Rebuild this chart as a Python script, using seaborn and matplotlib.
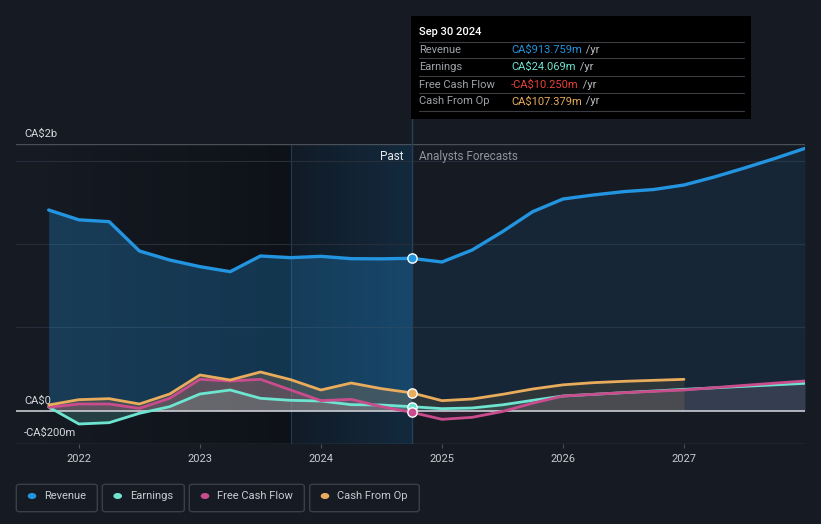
import matplotlib
matplotlib.use("Agg")
import matplotlib.pyplot as plt
from matplotlib.colors import LinearSegmentedColormap
from matplotlib.patches import FancyBboxPatch, Circle
from matplotlib.lines import Line2D
import seaborn as sns
import pandas as pd
import numpy as np

W, H = 821, 524

# --- data (CA$ millions) ---
past_years = [2021.75, 2022.0, 2022.25, 2022.5, 2022.75, 2023.0, 2023.25,
              2023.5, 2023.75, 2024.0, 2024.25, 2024.5, 2024.75]
fc_years = [2024.75, 2025.0, 2025.25, 2025.5, 2025.75, 2026.0, 2026.25,
            2026.5, 2026.75, 2027.0, 2027.25, 2027.5, 2027.75, 2028.0]

revenue_past = [1204, 1145, 1134, 958, 904, 864, 834, 928, 918, 926, 912, 911, 914]
revenue_fc = [914, 892, 964, 1074, 1194, 1270, 1294, 1314, 1327, 1354, 1402, 1456, 1513, 1574]

earnings_past = [22, -80, -72, -16, 24, 100, 124, 74, 62, 58, 36, 34, 24]
earnings_fc = [24, 12, 16, 35, 62, 88, 98, 108, 118, 128, 137, 146, 155, 164]

fcf_past = [20, 40, 40, 14, 74, 188, 178, 188, 124, 60, 68, 24, -10]
fcf_fc = [-10, -52, -40, -5, 45, 88, 98, 108, 116, 124, 138, 152, 165, 178]

cfo_past = [34, 66, 72, 40, 100, 214, 184, 232, 186, 124, 166, 132, 107]
cfo_fc = [107, 60, 70, 98, 130, 155, 168, 176, 182, 188]

series_names = ["Revenue", "Earnings", "Free Cash Flow", "Cash From Op"]
colors = {"Revenue": "#2394df", "Earnings": "#6ee5d1",
          "Free Cash Flow": "#c94c8c", "Cash From Op": "#e9ac5c"}

tooltip_date = "Sep 30 2024"
tooltip_values = ["CA$913.759m", "CA$24.069m", "-CA$10.250m", "CA$107.379m"]
tooltip_colors = ["#2394df", "#6ee5d1", "#e8413c", "#e9ac5c"]

year_ticks = [2022, 2023, 2024, 2025, 2026, 2027]

# --- build long table ---
rows = []
for name, p, f in [("Revenue", revenue_past, revenue_fc),
                   ("Earnings", earnings_past, earnings_fc),
                   ("Free Cash Flow", fcf_past, fcf_fc),
                   ("Cash From Op", cfo_past, cfo_fc)]:
    for x, v in zip(past_years, p):
        rows.append((name, x, v, "past"))
    for x, v in zip(fc_years[1:len(f)], f[1:]):
        rows.append((name, x, v, "forecast"))
df = pd.DataFrame(rows, columns=["series", "year", "value", "part"])

sns.set_theme(style="dark")
plt.rcParams['font.family'] = ['Roboto', 'DejaVu Sans']

BG = "#151a23"
fig = plt.figure(figsize=(W / 100, H / 100), dpi=100, facecolor=BG)
ax = fig.add_axes([16 / W, 1 - 444 / H, (805 - 16) / W, (444 - 144) / H])
ax.set_facecolor(BG)

XMIN, XMAX, YMIN, YMAX = 2021.48, 2028.0, -200, 1600

# background shading: darker past, highlighted last year
grad = np.linspace(0, 1, 256).reshape(1, -1)
dark_cmap = LinearSegmentedColormap.from_list("d", [BG, "#0e1218"])
ax.imshow(grad, extent=[2021.75, 2023.75, YMIN, YMAX], aspect="auto",
          cmap=dark_cmap, zorder=0)
hl_cmap = LinearSegmentedColormap.from_list("h", ["#111b26", "#132a3e"])
ax.imshow(grad, extent=[2023.75, 2024.75, YMIN, YMAX], aspect="auto",
          cmap=hl_cmap, zorder=0)
ax.axvline(2023.75, color="#1f3a55", lw=0.8, zorder=1)
ax.axvline(2024.75, color="#26405a", lw=1.0, zorder=3)

# gridlines
for g in [500, 1000, 1500]:
    ax.axhline(g, color="#272e3a", lw=0.8, zorder=1)
ax.axhline(YMAX, color="#4a4f58", lw=1.0, zorder=1)
ax.axhline(YMIN, color="#4a4f58", lw=1.0, zorder=1)

# fills
for name in series_names:
    d = df[df.series == name].sort_values("year")
    past = d[d.year <= 2024.75]
    fc = d[d.year >= 2024.75]
    if name == "Revenue":
        a_p, a_f = 0.28, 0.10
    else:
        a_p, a_f = 0.20, 0.12
    ax.fill_between(past.year, past.value, 0, color=colors[name], alpha=a_p,
                    lw=0, zorder=2)
    ax.fill_between(fc.year, fc.value, 0, color=colors[name], alpha=a_f,
                    lw=0, zorder=2)

ax.axhline(0, color="#c9ccd1", lw=1.2, zorder=3)

# lines
for name in series_names:
    d = df[df.series == name]
    sns.lineplot(data=d, x="year", y="value", color=colors[name],
                 lw=2.4 if name == "Revenue" else 2.0, ax=ax, sort=True,
                 estimator=None, zorder=4)

# markers at Sep 30 2024
last = df[df.year == 2024.75].drop_duplicates("series")
for _, r in last.iterrows():
    ax.scatter(r.year, r.value, s=45, color=colors[r.series], edgecolor="white",
               lw=1.0, zorder=6)

ax.set_xlim(XMIN, XMAX)
ax.set_ylim(YMIN, YMAX)
ax.set_xticks(year_ticks)
ax.set_xticklabels([str(y) for y in year_ticks], color="#c8ccd2", fontsize=8)
ax.set_yticks([])
ax.tick_params(axis="x", length=3, width=0.8, color="#4a4f58", pad=4, bottom=True)
ax.set_xlabel("")
ax.set_ylabel("")
ax.grid(False)
for s in ax.spines.values():
    s.set_visible(False)


def fx(x):
    return x / W


def fy(y):
    return 1 - y / H


# y labels
fig.text(fx(24), fy(137), "CA$2b", color="#d5d8dc", fontsize=8, va="baseline")
fig.text(fx(24), fy(404), "CA$0", color="#d5d8dc", fontsize=8, va="baseline")
fig.text(fx(24), fy(436), "-CA$200m", color="#d5d8dc", fontsize=8, va="baseline")

fig.text(fx(403), fy(160), "Past", color="#e8eaed", fontsize=8.5, ha="right", va="baseline")
fig.text(fx(419), fy(160), "Analysts Forecasts", color="#8f959c", fontsize=8.5, va="baseline")

# vertical marker line above the axes, up to tooltip
fig.add_artist(Line2D([fx(411.5), fx(411.5)], [fy(144), fy(118)],
                      color="#26405a", lw=1.0, zorder=1))

# tooltip box
fig.add_artist(FancyBboxPatch((fx(411), fy(119)), fx(751) - fx(411), fy(16) - fy(119),
                              boxstyle="square,pad=0", facecolor="black",
                              edgecolor="none", zorder=10))
fig.text(fx(419), fy(35), tooltip_date, color="white", fontsize=8,
         fontweight="medium", va="baseline", zorder=11)
for yy in [41.7, 58.3, 76, 93.3, 111]:
    fig.add_artist(Line2D([fx(419), fx(744)], [fy(yy), fy(yy)],
                          color="#3a3d42", lw=0.8, zorder=11))
row_base = [53, 70, 87.5, 104.5]
for lab, val, col, yb in zip(series_names, tooltip_values, tooltip_colors, row_base):
    fig.text(fx(419), fy(yb), lab, color="#9ea3a8", fontsize=8, va="baseline", zorder=11)
    t = fig.text(fx(511), fy(yb), val, color=col, fontsize=8, va="baseline", zorder=11)
    fig.add_artist(plt.Annotation(" /yr", xy=(1, 0), xycoords=t, xytext=(1, 0),
                                  textcoords="offset points", color="#b8bcc1",
                                  fontsize=8, va="bottom", zorder=11))

# legend boxes
legend_boxes = [(16.3, 97.3, 32, 44.3), (102.3, 184.3, 117.7, 130),
                (189.3, 304.3, 205, 217.3), (309.7, 419.3, 325, 337.3)]
for name, (x0, x1, cx, tx) in zip(series_names, legend_boxes):
    fig.add_artist(FancyBboxPatch((fx(x0), fy(511.7)), fx(x1) - fx(x0), fy(484.3) - fy(511.7),
                                  boxstyle="round,pad=0,rounding_size=0.004",
                                  facecolor="none", edgecolor="#3a3f48", lw=1.0))
    fig.add_artist(Circle((fx(cx), fy(496)), 3.6 / W, color=colors[name],
                          transform=fig.transFigure))
    fig.text(fx(tx), fy(496), name, color="#c8ccd2", fontsize=8, va="center")

fig.savefig("out.png", dpi=100, facecolor=BG)
